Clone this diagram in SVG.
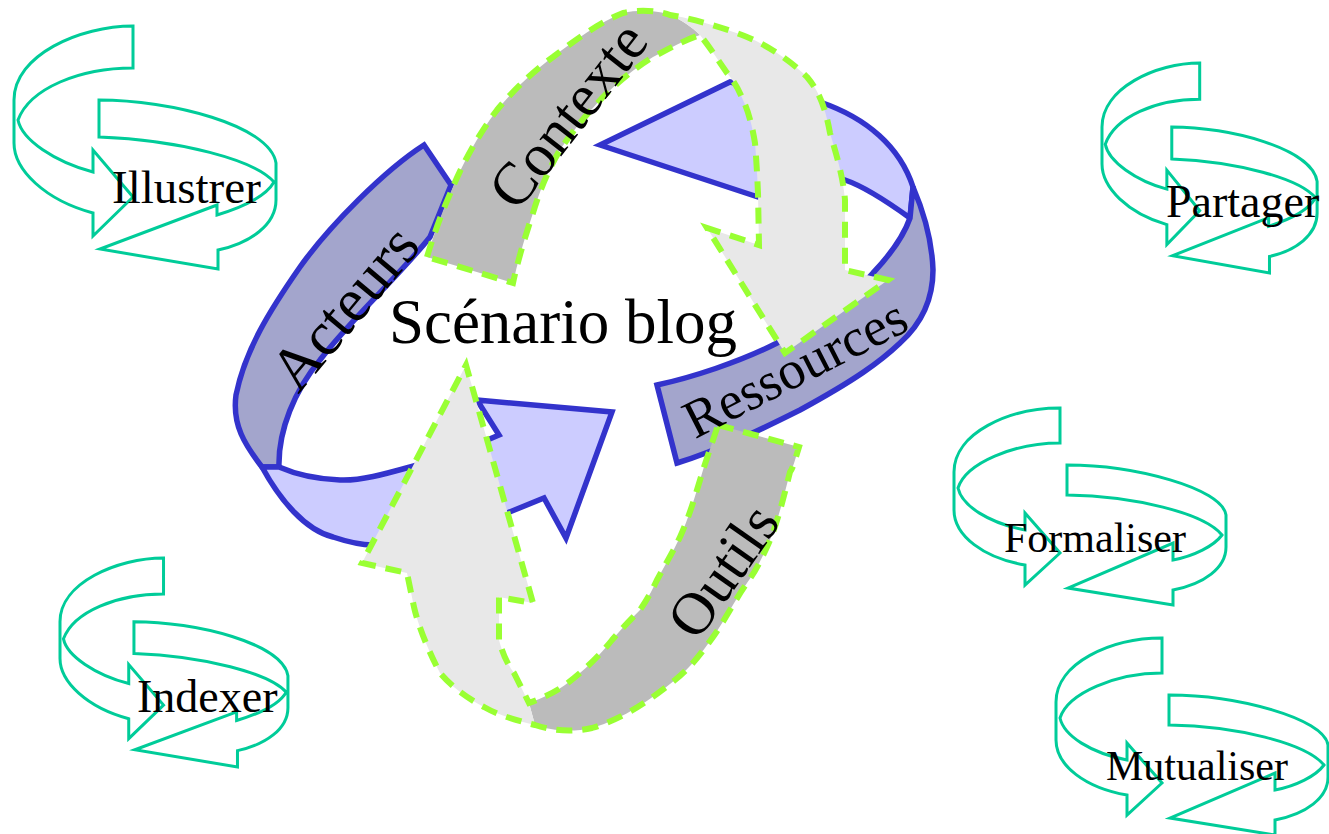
<svg xmlns="http://www.w3.org/2000/svg" xmlns:xlink="http://www.w3.org/1999/xlink" width="1329" height="834" viewBox="0 0 1329 834">
<style>
.ic{fill:none;stroke:#00CC99;stroke-width:3;stroke-linejoin:miter;vector-effect:non-scaling-stroke}
.icl{font-family:"Liberation Serif","Times New Roman",serif;fill:#000}
.bd{fill:#A3A5CC;stroke:#3333CC;stroke-width:5.5;stroke-linejoin:miter}
.bl{fill:#CCCCFF;stroke:#3333CC;stroke-width:5.5;stroke-linejoin:miter}
.gd{fill:#BBBBBB;stroke:none}
.gl{fill:#E8E8E8;stroke:none}
.dash{fill:none;stroke:#99FF33;stroke-width:6;stroke-dasharray:16 10;stroke-linejoin:miter}
.lab{font-family:"Liberation Serif","Times New Roman",serif;fill:#000;text-anchor:middle}
</style>
<defs>
<g id="iconA">
<path class="ic" d="M119,0 C66,0 0,29 0,74 L0,117 C0,144 31,174 79,187 L79,210 L119,171 L79,124 L79,146 C41,136 8,114 4,94 C16,62 66,42 119,42 Z"/>
<path class="ic" d="M85,74 C156,74 256,99 262,137 L262,174 C262,199 236,217 204,224 L204,243 L86,223 L203,179 L203,189 C226,182 251,172 260,156 C241,134 166,114 85,111 Z"/>
</g>
<g id="iconB">
<path class="ic" d="M106,0 C55,0 0,25 0,64 L0,102 C0,128 30,150 71,157 L71,177 L106,145 L71,105 L71,122 C35,115 8,98 4,80 C12,55 60,35 106,35 Z"/>
<path class="ic" d="M113,57 C180,57 268,80 272,107 L272,139 C272,160 250,176 219,182 L219,197 L114,180 L219,135 L219,152 C240,148 260,138 268,127 C250,105 180,88 113,87 Z"/>
</g>
</defs>

<g id="illustrer">
<use xlink:href="#iconA" href="#iconA" transform="translate(14,26)"/>
<text class="icl" x="112" y="203" font-size="47">Illustrer</text>
</g>
<g id="indexer">
<use xlink:href="#iconA" href="#iconA" transform="translate(60,558) scale(0.870,0.860)"/>
<text class="icl" x="137" y="712" font-size="46">Indexer</text>
</g>
<g id="partager">
<use xlink:href="#iconA" href="#iconA" transform="translate(1102,63) scale(0.821,0.864)"/>
<text class="icl" x="1166" y="217" font-size="46">Partager</text>
</g>
<g id="formaliser">
<use xlink:href="#iconB" href="#iconB" transform="translate(954,408)"/>
<text class="icl" x="1004" y="552" font-size="42">Formaliser</text>
</g>
<g id="mutualiser">
<use xlink:href="#iconB" href="#iconB" transform="translate(1056,638)"/>
<text class="icl" x="1106" y="780" font-size="42">Mutualiser</text>
</g>

<g id="cycle">
<g id="acteurs-band">
<path class="bd" d="M424,145 C385,170 330,225 300,267 C270,310 245,350 236,395 C232,425 245,445 262,467 L279,467 C278,430 295,390 320,360 C350,320 400,275 430,237 L451,185 Z"/>
<path class="bl" d="M262,467 C280,500 305,530 333,537 C348,542 360,545 373,545 C420,543 470,530 507,513 L544,498 L566,538 L612,412 L477,400 L499,435 L492,438 C460,452 430,462 410,467 C385,474 360,481 340,480 C315,479 295,474 279,467 Z"/>
</g>
<g id="ressources-band">
<path class="bl" d="M600,145 L758,197 L845,180 C860,185 885,200 910,218 L913,187 C900,147 867,118 820,102 L730,82 Z"/>
<path class="bd" d="M913,187 C925,215 932,240 933,270 C933,300 920,325 900,343 C880,362 855,380 800,410 C770,425 720,450 677,463 L657,385 C690,378 740,362 777,343 C810,325 850,300 873,273 C890,255 903,238 910,218 Z"/>
</g>
<g id="contexte-band">
<path class="gd" d="M427,257 C435,230 445,205 453,187 C462,165 478,135 497,110 C515,88 535,70 553,57 C575,40 600,22 623,13 C640,9 660,11 670,15 C680,19 692,27 700,35 C685,40 670,48 653,57 C635,68 618,82 603,97 C588,113 573,130 560,150 C548,170 540,190 533,213 C525,237 518,260 513,283 Z"/>
<path class="gl" d="M670,15 C690,18 725,28 747,37 C765,44 790,60 807,77 C818,90 825,105 830,133 C835,150 843,175 845,200 L845,270 L888,280 L785,353 L707,228 L759,245 L758,193 C757,170 756,155 755,143 C752,125 748,110 743,100 C738,88 733,80 727,73 C718,60 709,46 700,35 C692,27 680,19 670,15 Z"/>
<path class="dash" d="M427,257 C435,230 445,205 453,187 C462,165 478,135 497,110 C515,88 535,70 553,57 C575,40 600,22 623,13 C640,9 660,11 670,15 C690,18 725,28 747,37 C765,44 790,60 807,77 C818,90 825,105 830,133 C835,150 843,175 845,200 L845,270 L888,280 L785,353 L707,228 L759,245 L758,193 C757,170 756,155 755,143 C752,125 748,110 743,100 C738,88 733,80 727,73 C718,60 709,46 700,35 C685,40 670,48 653,57 C635,68 618,82 603,97 C588,113 573,130 560,150 C548,170 540,190 533,213 C525,237 518,260 513,283 Z"/>
</g>
<g id="outils-band">
<path class="gd" d="M718,425 L799,447 C795,460 793,468 790,472 C783,500 777,525 767,547 C760,562 755,572 747,583 C735,600 725,620 713,637 C700,655 690,668 675,680 C650,700 625,718 592,728 C570,733 550,730 535,725 L529,703 C545,697 555,692 565,685 C585,670 600,655 612,640 C625,625 632,618 640,610 C650,595 653,588 657,580 C665,565 673,552 680,537 C690,515 697,490 703,470 C708,455 713,440 718,425 Z"/>
<path class="gl" d="M535,725 C515,720 498,715 484,707 C465,697 450,685 440,673 C428,650 418,625 414,607 L407,573 L362,563 L466,365 L533,603 L499,597 L499,640 C503,655 508,665 514,673 C520,685 525,695 529,703 Z"/>
<path class="dash" d="M718,425 L799,447 C795,460 793,468 790,472 C783,500 777,525 767,547 C760,562 755,572 747,583 C735,600 725,620 713,637 C700,655 690,668 675,680 C650,700 625,718 592,728 C570,733 550,730 535,725 C515,720 498,715 484,707 C465,697 450,685 440,673 C428,650 418,625 414,607 L407,573 L362,563 L466,365 L533,603 L499,597 L499,640 C503,655 508,665 514,673 C520,685 525,695 529,703 C545,697 555,692 565,685 C585,670 600,655 612,640 C625,625 632,618 640,610 C650,595 653,588 657,580 C665,565 673,552 680,537 C690,515 697,490 703,470 C708,455 713,440 718,425 Z"/>
</g>
</g>

<g id="labels">
<text class="lab" x="563" y="343" font-size="63">Scénario blog</text>
<text class="lab" font-size="62" transform="translate(345,308) rotate(-50)" y="20">Acteurs</text>
<text class="lab" font-size="60" transform="translate(568,115) rotate(-52)" y="20">Contexte</text>
<text class="lab" font-size="54" transform="translate(795,368) rotate(-27)" y="18">Ressources</text>
<text class="lab" font-size="60" transform="translate(723,571) rotate(-55)" y="20">Outils</text>
</g>
</svg>
